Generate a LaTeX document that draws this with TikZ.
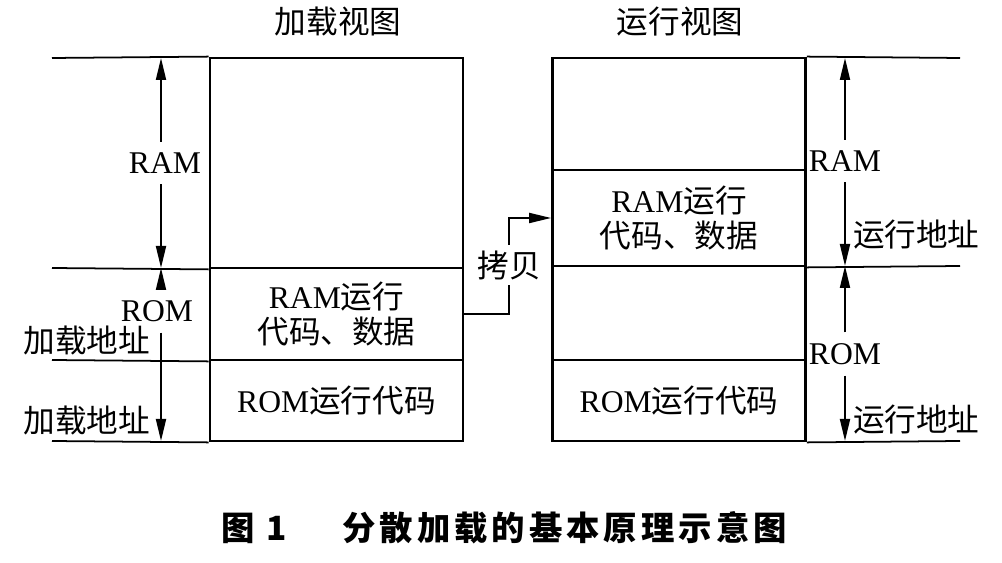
\documentclass[tikz,border=0pt]{standalone}
\usepackage{fontspec}
\setmainfont{Liberation Serif}
\newfontfamily\cjk{Noto Sans CJK SC}
\newfontfamily\capfont[LetterSpace=12]{Noto Sans CJK SC}
\usetikzlibrary{arrows.meta}

\begin{document}
\begin{tikzpicture}[x=0.02cm, y=-0.02cm,
    region/.style={draw, line width=1.6pt, minimum width=5.06cm, inner sep=0pt, align=center, font=\fontsize{18}{19.5}\selectfont},
    guide/.style={line width=1pt},
    span/.style={line width=1.1pt, -{Triangle[length=0.44cm, width=0.2cm]}},
    tag/.style={font=\fontsize{18}{20}\selectfont, inner xsep=1pt, inner ysep=6pt}
]
\useasboundingbox (0,0) rectangle (1002,563);

% Titles
\node[tag] (ltitle) at (338,22) {\cjk 加载视图};
\node[tag] (rtitle) at (680,22) {\cjk 运行视图};

% Load view
\node[region, minimum height=4.2cm] (lram) at (336.5,163) {};
\node[region, minimum height=1.84cm] (ldata) at (336.5,314) {RAM{\cjk 运行}\\{\cjk 代码、数据}};
\node[region, minimum height=1.62cm] (lcode) at (336.5,400.5) {ROM{\cjk 运行代码}};

% Run view
\node[region, minimum height=2.24cm] (rtop) at (679,114) {};
\node[region, minimum height=1.92cm] (rdata) at (679,218) {RAM{\cjk 运行}\\{\cjk 代码、数据}};
\node[region, minimum height=1.88cm] (rmid) at (679,313) {};
\node[region, minimum height=1.62cm] (rcode) at (679,400.5) {ROM{\cjk 运行代码}};

% Guide lines
\coordinate (gl1) at (52,58);
\coordinate (gl2) at (52,268);
\coordinate (gl3) at (52,360);
\coordinate (gl4) at (52,441);
\coordinate (gr1) at (960,58);
\coordinate (gr2) at (960,266);
\coordinate (gr3) at (960,441);
\draw[guide] (gl1) -- (lram.north west);
\draw[guide] (gl2) -- (lram.south west);
\draw[guide] (gl3) -- (ldata.south west);
\draw[guide] (gl4) -- (lcode.south west);
\draw[guide] (gr1) -- (rtop.north east);
\draw[guide] (gr2) -- (rdata.south east);
\draw[guide] (gr3) -- (rcode.south east);

% Load addresses
\coordinate (al1) at (161,58);
\coordinate (al2) at (161,268);
\coordinate (al3) at (161,441);
\node[tag] (lramtxt) at (165,163) {RAM};
\node[tag] (lromtxt) at (157,311) {ROM};
\node[tag] (lload1) at (87,341) {\cjk 加载地址};
\node[tag] (lload2) at (87,421) {\cjk 加载地址};
\draw[span] (lramtxt.north -| al1) -- (al1);
\draw[span] (lramtxt.south -| al1) -- (al2);
\draw[span] (lromtxt.north -| al2) -- (al2);
\draw[span] (lromtxt.south -| al3) -- (al3);

% Run addresses
\coordinate (ar1) at (845,58);
\coordinate (ar2) at (845,266);
\coordinate (ar3) at (845,441);
\node[tag] (rramtxt) at (845,161) {RAM};
\node[tag] (rromtxt) at (845,354) {ROM};
\node[tag, anchor=west] (rrun1) at (851,235) {\cjk 运行地址};
\node[tag, anchor=west] (rrun2) at (851,420) {\cjk 运行地址};
\draw[span] (rramtxt.north -| ar1) -- (ar1);
\draw[span] (rramtxt.south -| ar2) -- (ar2);
\draw[span] (rromtxt.north -| ar2) -- (ar2);
\draw[span] (rromtxt.south -| ar3) -- (ar3);

% Copy
\node[tag, inner sep=3pt] (copytxt) at (509,265) {\cjk 拷贝};
\draw[guide] (ldata.east) -| (copytxt.south);
\draw[span] (copytxt.north) |- (rdata.west);

% Caption
\node (cap) at (504,528) {\fontsize{19}{22}\capfont\bfseries 图\hspace{0.25cm}1\hspace{1.1cm}分散加载的基本原理示意图};

\end{tikzpicture}
\end{document}
